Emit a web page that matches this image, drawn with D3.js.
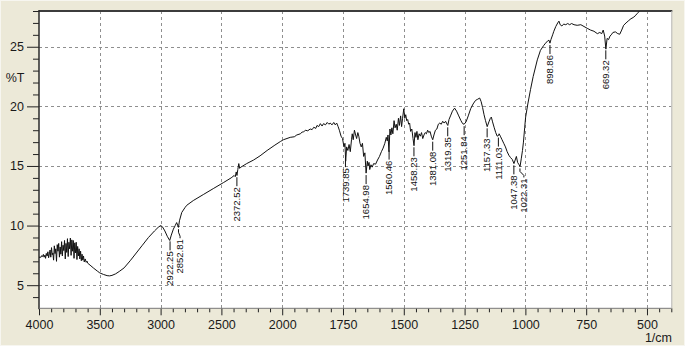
<!DOCTYPE html>
<html>
<head>
<meta charset="utf-8">
<title>FTIR spectrum</title>
<script src="https://d3js.org/d3.v7.min.js"></script>
<style>
    body { margin: 0; background: #ece9d8; overflow: hidden; }
    svg { display: block; font-family: "Liberation Sans", Arial, sans-serif; }
    .grid line { stroke: #8f8f8f; stroke-width: 1; stroke-dasharray: 3,3; }
    .axis text { font-size: 12.5px; fill: #1a1a1a; }
    .axis line { stroke: #222; }
    .axis path { display: none; }
    .spectrum { fill: none; stroke: #111; stroke-width: 1; stroke-linejoin: round; }
    .peak path { fill: none; stroke: #111; stroke-width: 1; }
    .peak text { font-size: 9.5px; fill: #111; }
</style>
</head>
<body>
<svg id="chart" width="685" height="346"></svg>
<script>
// spectrum: [wavenumber 1/cm, %T]
const spectrum = [
    [4000,7.30],[3992,7.38],[3985,7.33],[3977,7.48],[3970,7.40],[3964,7.58],[3958,7.35],[3951,7.52],
    [3946,7.25],[3940,7.66],[3933,7.45],[3927,7.80],[3921,7.30],[3915,7.62],[3909,7.95],[3903,7.35],
    [3897,8.15],[3891,7.55],[3886,7.70],[3880,7.10],[3874,8.30],[3868,7.65],[3862,8.05],[3856,7.00],
    [3850,8.40],[3844,7.85],[3838,8.50],[3832,7.35],[3826,8.20],[3820,7.60],[3814,8.65],[3808,7.45],
    [3802,8.35],[3796,7.90],[3790,8.75],[3784,7.20],[3778,8.50],[3772,7.75],[3766,8.90],[3760,7.40],
    [3754,8.60],[3748,8.05],[3742,8.95],[3736,7.50],[3730,8.80],[3724,7.85],[3718,8.75],[3712,7.25],
    [3706,8.55],[3700,7.70],[3694,8.60],[3688,7.15],[3682,8.25],[3676,7.45],[3670,8.05],[3664,7.20],
    [3658,7.85],[3652,7.05],[3646,7.60],[3640,7.10],[3634,7.45],[3628,6.95],[3620,7.20],[3612,6.92],
    [3605,7.02],[3600,6.85],[3580,6.68],[3550,6.42],[3520,6.18],
    [3500,6.03],[3470,5.90],[3440,5.80],[3420,5.78],[3400,5.82],[3370,5.95],[3340,6.15],[3300,6.45],
    [3250,7.05],[3200,7.70],[3150,8.35],[3100,9.00],[3050,9.55],[3020,9.85],[3000,10.0],[2985,9.9],
    [2965,9.55],[2945,9.1],[2925,8.75],[2912,9.2],[2895,9.7],[2880,10.0],[2868,10.25],[2860,10.05],
    [2853,9.85],[2845,10.4],[2826,11.1],[2800,11.5],[2785,11.7],[2731,12.1],[2649,12.6],[2567,13.1],
    [2484,13.6],[2420,14.0],[2395,14.2],[2386,14.1],[2378,14.5],[2372,14.2],[2365,14.7],[2357,15.2],
    [2350,14.8],[2340,14.9],[2292,15.2],[2235,15.5],[2182,15.85],[2124,16.3],[2060,16.75],[2015,17.05],
    [1995,17.2],[1967,17.4],[1950,17.45],[1940,17.6],[1925,17.7],[1918,17.85],[1912,17.85],[1905,18.0],
    [1895,17.95],[1885,18.1],[1877,18.05],[1870,18.25],[1862,18.15],[1857,18.4],[1850,18.3],[1843,18.55],
    [1836,18.35],[1830,18.55],[1822,18.45],[1815,18.65],[1808,18.5],[1803,18.6],[1795,18.45],[1788,18.65],
    [1782,18.45],[1776,18.6],[1770,18.3],[1765,18.0],[1758,17.5],[1752,17.3],[1746,16.6],[1742,16.9],
    [1739,15.4],[1735,16.6],[1730,16.3],[1725,16.8],[1720,16.2],[1715,17.2],[1712,17.7],[1708,17.2],
    [1703,18.0],[1698,17.6],[1694,17.3],[1689,17.8],[1685,17.5],[1680,16.9],[1675,16.6],[1670,16.9],
    [1665,15.8],[1660,16.1],[1655,14.4],[1650,15.4],[1647,15.0],[1643,15.3],[1640,14.7],[1635,15.1],
    [1630,14.9],[1624,15.2],[1616,15.15],[1608,15.5],[1600,15.8],[1592,16.2],[1585,16.5],[1578,16.9],
    [1572,17.4],[1568,17.1],[1565,17.6],[1561,16.2],[1557,18.1],[1553,17.6],[1549,18.2],[1545,17.7],
    [1540,18.8],[1536,18.2],[1531,18.5],[1527,18.0],[1522,19.0],[1518,18.4],[1513,19.2],[1509,18.3],
    [1505,19.0],[1500,19.8],[1496,19.0],[1492,19.3],[1488,18.8],[1484,18.9],[1480,18.5],[1476,18.6],
    [1472,17.9],[1467,18.1],[1462,17.3],[1458,16.7],[1454,17.8],[1450,17.4],[1446,17.9],[1442,17.2],
    [1437,17.7],[1432,17.5],[1427,17.8],[1422,17.3],[1417,17.6],[1412,17.8],[1407,17.7],[1402,18.0],
    [1397,17.8],[1392,17.9],[1387,17.5],[1381,17.2],[1376,17.6],[1370,18.0],[1364,18.1],[1358,18.5],
    [1352,18.6],[1346,18.5],[1340,18.75],[1334,18.6],[1328,18.75],[1322,18.5],[1319,18.4],[1314,18.9],
    [1308,19.2],[1300,19.6],[1291,19.85],[1283,19.6],[1274,19.2],[1265,18.8],[1258,18.55],[1252,18.5],
    [1244,18.7],[1235,19.2],[1225,19.8],[1215,20.2],[1205,20.5],[1196,20.6],[1188,20.7],[1182,20.4],
    [1176,19.9],[1170,19.3],[1164,18.8],[1157,18.3],[1150,18.7],[1144,19.0],[1140,19.1],[1135,18.7],
    [1128,18.2],[1122,17.8],[1116,17.5],[1111,17.55],[1108,17.7],[1103,17.5],[1096,17.2],[1089,16.9],
    [1082,16.6],[1075,16.2],[1068,15.9],[1061,15.7],[1054,15.55],[1047,15.2],[1042,15.5],[1037,15.8],
    [1032,15.3],[1026,15.1],[1022,14.95],[1017,15.6],[1012,16.3],[1008,17.0],[1003,18.2],[999,19.1],
    [990,20.2],[979,21.4],[968,22.5],[951,23.9],[938,24.7],[925,25.1],[917,25.3],[908,25.5],
    [903,25.55],[899,25.3],[895,25.6],[888,26.0],[883,26.3],[875,26.7],[867,27.0],[862,27.15],
    [857,26.85],[850,26.75],[842,26.9],[834,26.85],[826,26.95],[818,26.85],[810,26.95],[800,26.85],
    [787,26.8],[772,26.85],[759,26.7],[746,26.55],[732,26.4],[718,26.3],[704,26.1],[694,26.2],
    [686,26.1],[680,26.4],[674,25.9],[669,24.8],[664,25.7],[658,25.6],[652,25.9],[647,26.0],
    [640,26.2],[630,26.25],[620,26.1],[612,26.05],[604,26.4],[596,26.8],[586,27.0],[575,27.2],
    [566,27.35],[557,27.45],[548,27.6],[540,27.8],[530,28.0],[520,28.3]
];

// labelled peaks
const peaks = ["2922.25","2852.81","2372.52","1739.85","1654.98","1560.46","1458.23","1381.08",
               "1319.35","1251.84","1157.33","1111.03","1047.38","1022.31","898.86","669.32"];

// axis ticks
const xTicks = [4000,3500,3000,2500,2000,1750,1500,1250,1000,750,500];
const yTicks = [5,10,15,20,25];
const yLabel = "%T";
const xLabel = "1/cm";

const width = 685, height = 346;
const plot = { left: 39, top: 11, right: 671.3, bottom: 308.3 };

const svg = d3.select("#chart");

// scale changes at 2000 1/cm, like the instrument printout
const x = d3.scaleLinear()
    .domain([4000, 2000, 400])
    .range([plot.left, 282.2, plot.right]);
const y = d3.scaleLinear()
    .domain([3.06, 28])
    .range([plot.bottom, plot.top]);

// outer panel edge
svg.append("rect")
    .attr("x", 0.5).attr("y", 0.5)
    .attr("width", width - 1).attr("height", height - 1)
    .attr("fill", "#ece9d8")
    .attr("stroke", "#f7f6f0");

svg.append("rect")
    .attr("x", plot.left).attr("y", plot.top)
    .attr("width", plot.right - plot.left)
    .attr("height", plot.bottom - plot.top)
    .attr("fill", "#fff");

svg.append("clipPath").attr("id", "clip")
    .append("rect")
    .attr("x", plot.left).attr("y", plot.top)
    .attr("width", plot.right - plot.left)
    .attr("height", plot.bottom - plot.top);

// grid
const grid = svg.append("g").attr("class", "grid");
grid.selectAll(".gx")
    .data(xTicks.filter(d => d !== 4000))
    .enter().append("line")
    .attr("x1", d => Math.round(x(d)) + 0.5).attr("x2", d => Math.round(x(d)) + 0.5)
    .attr("y1", plot.top).attr("y2", plot.bottom);
grid.selectAll(".gy")
    .data(yTicks)
    .enter().append("line")
    .attr("x1", plot.left).attr("x2", plot.right)
    .attr("y1", d => Math.round(y(d)) + 0.5).attr("y2", d => Math.round(y(d)) + 0.5);

// minor ticks
const xMinor = d3.range(4000, 2000, -100).concat(d3.range(2000, 399, -50))
    .filter(d => !xTicks.includes(d));
const yMinor = d3.range(4, 29).filter(d => !yTicks.includes(d));

svg.append("g")
    .attr("class", "axis")
    .attr("transform", `translate(0,${plot.bottom})`)
    .call(d3.axisBottom(x).tickValues(xMinor).tickSize(4).tickFormat(""));
svg.append("g")
    .attr("class", "axis")
    .attr("transform", `translate(0,${plot.bottom})`)
    .call(d3.axisBottom(x).tickValues(xTicks).tickSize(7).tickPadding(5).tickFormat(d3.format("d")));

svg.append("g")
    .attr("class", "axis")
    .attr("transform", `translate(${plot.left},0)`)
    .call(d3.axisLeft(y).tickValues(yMinor).tickSize(6).tickFormat(""));
svg.append("g")
    .attr("class", "axis")
    .attr("transform", `translate(${plot.left},0)`)
    .call(d3.axisLeft(y).tickValues(yTicks).tickSize(12).tickPadding(3).tickFormat(d3.format("d")));

// frame: dark top/left, lighter bottom/right
svg.append("line").attr("x1", plot.left).attr("x2", plot.right + 1)
    .attr("y1", plot.top).attr("y2", plot.top)
    .attr("stroke", "#3c3c3c").attr("stroke-width", 2);
svg.append("line").attr("x1", plot.left).attr("x2", plot.left)
    .attr("y1", plot.top - 1).attr("y2", plot.bottom + 1)
    .attr("stroke", "#2a2a2a").attr("stroke-width", 1.5);
svg.append("line").attr("x1", plot.left).attr("x2", plot.right)
    .attr("y1", plot.bottom).attr("y2", plot.bottom)
    .attr("stroke", "#777").attr("stroke-width", 1);
svg.append("line").attr("x1", plot.right + 0.5).attr("x2", plot.right + 0.5)
    .attr("y1", plot.top).attr("y2", plot.bottom)
    .attr("stroke", "#b8b8b8").attr("stroke-width", 1);

// axis titles
svg.append("text")
    .attr("x", 15).attr("y", 82)
    .attr("text-anchor", "middle")
    .style("font-size", "12.5px").style("fill", "#1a1a1a")
    .text(yLabel);
svg.append("text")
    .attr("x", 672).attr("y", 342)
    .attr("text-anchor", "end")
    .style("font-size", "12.5px").style("fill", "#1a1a1a")
    .text(xLabel);

// spectrum
const line = d3.line()
    .x(d => x(d[0]))
    .y(d => y(d[1]));

svg.append("path")
    .datum(spectrum)
    .attr("class", "spectrum")
    .attr("clip-path", "url(#clip)")
    .attr("d", line);

// %T at a given wavenumber, linear between read points
function valueAt(w) {
    for (let i = 0; i < spectrum.length - 1; i++) {
        const a = spectrum[i], b = spectrum[i + 1];
        if (w <= a[0] && w >= b[0]) {
            const t = (a[0] - w) / (a[0] - b[0]);
            return a[1] + t * (b[1] - a[1]);
        }
    }
    return spectrum[spectrum.length - 1][1];
}

// peak markers: short drop line then vertical label, nudged apart when crowded
let prevX = -Infinity;
const peakGroup = svg.append("g").attr("class", "peak");
peaks.forEach(p => {
    const w = parseFloat(p);
    const cx = x(w);
    const cy = y(valueAt(w));
    const tx = Math.max(cx, prevX + 10);
    prevX = tx;
    const top = cy + 12;

    const path = tx === cx
        ? `M${cx},${cy + 2}V${top - 1}`
        : `M${cx},${cy + 2}V${cy + 5}L${tx},${cy + 9}V${top - 1}`;
    peakGroup.append("path").attr("d", path);

    peakGroup.append("text")
        .attr("transform", `translate(${tx},${top}) rotate(-90)`)
        .attr("text-anchor", "end")
        .attr("dy", "0.35em")
        .text(p);
});
</script>
</body>
</html>
